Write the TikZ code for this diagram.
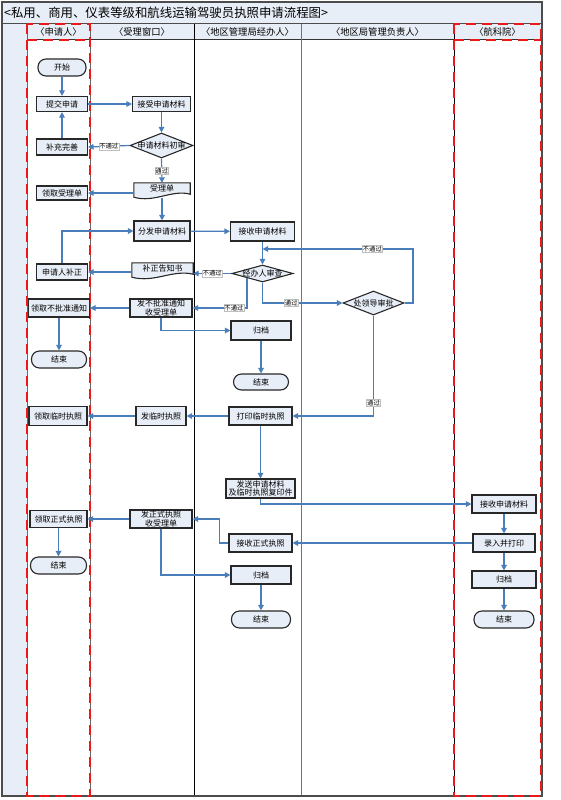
\documentclass[tikz,border=0pt]{standalone}
\usepackage{fontspec}
\newfontfamily\cjk{Noto Sans CJK SC}
\usetikzlibrary{shapes.geometric,arrows.meta,calc}
\definecolor{boxfill}{RGB}{232,238,247}
\definecolor{flow}{RGB}{74,126,187}
\definecolor{edge}{RGB}{40,40,40}
\definecolor{lanered}{RGB}{235,25,25}
\tikzset{
  box/.style={draw=edge, fill=boxfill, line width=1.1pt, inner sep=0pt, align=center, font=\cjk\fontsize{8}{8.6}\selectfont},
  term/.style={box, rounded corners=8pt},
  dia/.style={diamond, draw=edge, fill=boxfill, line width=1.1pt, inner sep=0pt},
  dtext/.style={font=\cjk\fontsize{8}{8.6}\selectfont, inner sep=0pt},
  doc/.style={rectangle, inner sep=0pt, align=center, font=\cjk\fontsize{8}{8.6}\selectfont},
  docline/.style={draw=edge, fill=boxfill, line width=1.1pt},
  lab/.style={fill=white, draw=black!25, line width=0.4pt, inner sep=0.6pt, font=\cjk\fontsize{6.3}{6.5}\selectfont},
  arr/.style={draw=flow, line width=1.2pt, -{Triangle[length=5.5pt,width=5.5pt]}},
  hdr/.style={font=\cjk\fontsize{9.3}{10}\selectfont, inner sep=0pt},
  laneline/.style={line width=1pt},
  redlane/.style={draw=lanered, line width=2pt, dash pattern=on 10pt off 6pt},
}
\begin{document}
\begin{tikzpicture}[x=1pt,y=-1pt]
\useasboundingbox (0,0) rectangle (560,800);
\fill[white] (0,0) rectangle (560,800);
% title bar, left strip, header row
\fill[boxfill] (2,2) rectangle (542,23);
\fill[boxfill] (2,23) rectangle (27,796);
\fill[boxfill] (27,24) rectangle (541,40);
\node[anchor=west, font=\cjk\fontsize{12.4}{13}\selectfont, inner sep=0pt] (title) at (4,12.5) {<私用、商用、仪表等级和航线运输驾驶员执照申请流程图>};
% lane lines
\draw[laneline, black!70] (2,23.5) -- (542,23.5);
\draw[laneline, black!80] (27,40) -- (541,40);
\draw[laneline, black!60] (27,24) -- (27,796);
\draw[laneline, black!60] (90,24) -- (90,796);
\draw[laneline, black] (194,24) -- (194,796);
\draw[laneline, black!55] (301,24) -- (301,796);
\draw[laneline, black] (454,24) -- (454,796);
\draw[line width=1.2pt, black!70] (2,2) rectangle (542,796);
% red dashed lanes
\draw[redlane] (27,24) rectangle (90,796);
\draw[redlane] (27,40) -- (90,40);
\draw[redlane] (454,24) rectangle (541,796);
\draw[redlane] (454,40) -- (541,40);
% headers
\node[hdr] (h1) at (58.5,32) {〈申请人〉};
\node[hdr] (h2) at (142,32) {〈受理窗口〉};
\node[hdr] (h3) at (247.5,32) {〈地区管理局经办人〉};
\node[hdr] (h4) at (377.5,32) {〈地区局管理负责人〉};
\node[hdr] (h5) at (497.5,32) {〈航科院〉};

% nodes
\node[term, minimum width=48pt, minimum height=17pt] (start) at (62,67.5) {开始};
\node[box, minimum width=51pt, minimum height=15pt] (submit) at (62,104) {提交申请};
\node[box, minimum width=58pt, minimum height=15pt] (accept) at (161.5,104) {接受申请材料};
\node[dia, minimum width=63pt, minimum height=25pt, label={[dtext]center:申请材料初审}] (check1) at (161.5,145.5) {};
\node[box, minimum width=51pt, minimum height=16pt] (supp) at (62,147) {补充完善};
\node[doc, minimum width=56pt, minimum height=15pt] (receipt) at (162,190.5) {};
\draw[docline] (receipt.north west) -- (receipt.north east) -- ($(receipt.south east)+(0,-4)$)
   .. controls ($(receipt.south)+(10,-9)$) and ($(receipt.south)+(-8,5)$) .. ($(receipt.south west)+(0,-1)$) -- cycle;
\node[doc] (receipttxt) at (162,188.5) {受理单};
\node[box, minimum width=51pt, minimum height=14pt] (getrec) at (62,193) {领取受理单};
\node[box, minimum width=56pt, minimum height=20pt] (dist) at (162,231) {分发申请材料};
\node[box, minimum width=64pt, minimum height=19pt] (recv1) at (262.5,231.5) {接收申请材料};
\node[box, minimum width=51pt, minimum height=16pt] (fix) at (62,272) {申请人补正};
\node[doc, minimum width=61pt, minimum height=15pt] (notice) at (162.5,270.5) {};
\draw[docline] (notice.north west) -- (notice.north east) -- ($(notice.south east)+(0,-4)$)
   .. controls ($(notice.south)+(10,-9)$) and ($(notice.south)+(-8,5)$) .. ($(notice.south west)+(0,-1)$) -- cycle;
\node[doc] (noticetxt) at (162.5,268.5) {补正告知书};
\node[dia, minimum width=61pt, minimum height=17pt, label={[dtext]center:经办人审查}] (review) at (262.5,273.5) {};
\node[dia, minimum width=61pt, minimum height=24pt, label={[dtext]center:处领导审批}] (approve) at (373.5,303) {};
\node[box, minimum width=62pt, minimum height=18pt, font=\cjk\fontsize{8}{8.3}\selectfont] (reject) at (161,308) {发不批准通知\\收受理单};
\node[box, minimum width=61pt, minimum height=18pt] (getreject) at (59,308) {领取不批准通知};
\node[term, minimum width=55pt, minimum height=17pt] (end1) at (59,359.5) {结束};
\node[box, minimum width=60pt, minimum height=19pt] (arch1) at (261,330.5) {归档};
\node[term, minimum width=55pt, minimum height=16pt] (end2) at (261,382) {结束};
\node[box, minimum width=63pt, minimum height=18pt] (print) at (260.5,416) {打印临时执照};
\node[box, minimum width=50pt, minimum height=19pt] (issuetmp) at (161,416) {发临时执照};
\node[box, minimum width=58pt, minimum height=19pt] (gettmp) at (58,416) {领取临时执照};
\node[box, minimum width=69pt, minimum height=19pt, font=\cjk\fontsize{8}{8.3}\selectfont] (send) at (260.5,488.5) {发送申请材料\\及临时执照复印件};
\node[box, minimum width=64pt, minimum height=18pt] (recv2) at (504,504) {接收申请材料};
\node[box, minimum width=62pt, minimum height=18pt] (input) at (504,543) {录入并打印};
\node[box, minimum width=63pt, minimum height=18pt] (recvlic) at (260.5,543) {接收正式执照};
\node[box, minimum width=62pt, minimum height=18pt, font=\cjk\fontsize{8}{8.3}\selectfont] (issuelic) at (161,519) {发正式执照\\收受理单};
\node[box, minimum width=57pt, minimum height=17pt] (getlic) at (58.5,519) {领取正式执照};
\node[term, minimum width=56pt, minimum height=17pt] (end3) at (58.5,565.5) {结束};
\node[box, minimum width=60pt, minimum height=18pt] (arch2) at (261,575) {归档};
\node[term, minimum width=59pt, minimum height=17pt] (end4) at (261,619.5) {结束};
\node[box, minimum width=64pt, minimum height=17pt] (arch3) at (504,579.5) {归档};
\node[term, minimum width=60pt, minimum height=17pt] (end5) at (504,619.5) {结束};
\coordinate (fbr) at (413,249);
\coordinate (fb) at (262.5,249);

% connectors
\draw[arr] (start) -- (submit);
\draw[arr] (submit) -- (accept);
\draw[arr] (accept) -- (check1);
\draw[arr] (check1.west) -- node[lab]{不通过} (supp.east);
\draw[arr] (supp) -- (submit);
\draw[arr] (check1.south) -- node[lab]{通过} (receipt.north);
\draw[arr] (receipt.west |- getrec.east) -- (getrec.east);
\draw[arr] (receipt.south) -- (dist.north);
\draw[arr] (dist) -- (recv1);
\draw[arr] (fix.north) |- (dist.west);
\draw[arr] (notice.west |- fix.east) -- (fix.east);
\draw[arr] (recv1) -- (review);
\draw[arr] (review.west) -- node[lab]{不通过} (review.west -| notice.east);
\draw[arr] (review.south west) |- node[lab, pos=0.62]{不通过} (reject.east);
\draw[arr] (review.south) |- node[lab, pos=0.68]{通过} (approve.west);
\draw[arr] (approve.east) -| (fbr) -- node[lab, pos=0.27]{不通过} (fb);
\draw[arr] (approve.south) |- node[lab, pos=0.435]{通过} (print.east);
\draw[arr] (reject) -- (getreject);
\draw[arr] (reject.south) |- (arch1.west);
\draw[arr] (getreject) -- (end1);
\draw[arr] (arch1) -- (end2);
\draw[arr] (print) -- (issuetmp);
\draw[arr] (issuetmp) -- (gettmp);
\draw[arr] (print) -- (send);
\draw[arr] (send.south) |- (recv2.west);
\draw[arr] (recv2) -- (input);
\draw[arr] (input) -- (recvlic);
\draw[arr] (recvlic.west) -- ++(-9,0) |- (issuelic.east);
\draw[arr] (issuelic) -- (getlic);
\draw[arr] (getlic) -- (end3);
\draw[arr] (issuelic.south) |- (arch2.west);
\draw[arr] (arch2) -- (end4);
\draw[arr] (input) -- (arch3);
\draw[arr] (arch3) -- (end5);
\end{tikzpicture}
\end{document}
